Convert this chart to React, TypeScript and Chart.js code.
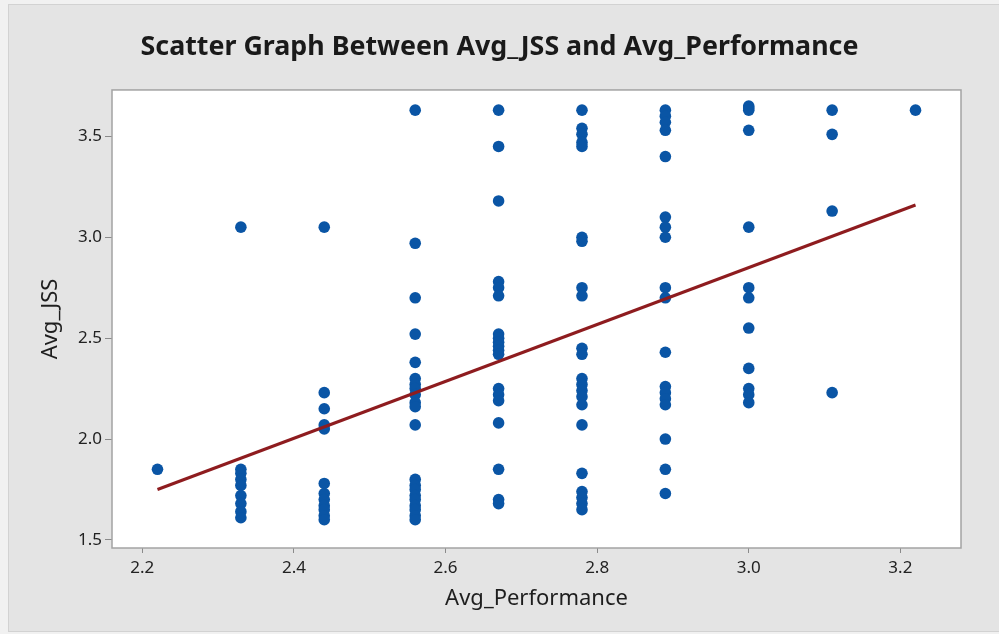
import React, { useEffect, useRef } from "react";
import { Chart, registerables } from "chart.js";

Chart.register(...registerables);

// Avg_Performance levels (x) and the Avg_JSS values (y) observed at each level
const perfLevels = [2.22, 2.33, 2.44, 2.56, 2.67, 2.78, 2.89, 3.0, 3.11, 3.22];
const jss222 = [1.85];
const jss233 = [3.05, 1.85, 1.83, 1.8, 1.77, 1.72, 1.68, 1.64, 1.61];
const jss244 = [3.05, 2.23, 2.15, 2.07, 2.05, 1.78, 1.73, 1.7, 1.67, 1.65, 1.62, 1.6];
const jss256 = [3.63, 2.97, 2.7, 2.52, 2.38, 2.3, 2.27, 2.25, 2.22, 2.18, 2.16, 2.07, 1.8, 1.77, 1.75, 1.72, 1.7, 1.67, 1.65, 1.62, 1.6];
const jss267 = [3.63, 3.45, 3.18, 2.78, 2.75, 2.71, 2.52, 2.5, 2.48, 2.46, 2.44, 2.42, 2.25, 2.22, 2.19, 2.08, 1.85, 1.7, 1.68];
const jss278 = [3.63, 3.54, 3.51, 3.47, 3.45, 3.0, 2.98, 2.75, 2.71, 2.45, 2.42, 2.3, 2.27, 2.24, 2.21, 2.17, 2.07, 1.83, 1.74, 1.71, 1.68, 1.65];
const jss289 = [3.63, 3.6, 3.57, 3.53, 3.4, 3.1, 3.05, 3.0, 2.75, 2.7, 2.43, 2.26, 2.23, 2.2, 2.17, 2.0, 1.85, 1.73];
const jss300 = [3.65, 3.64, 3.63, 3.53, 3.05, 2.75, 2.7, 2.55, 2.35, 2.25, 2.22, 2.18];
const jss311 = [3.63, 3.51, 3.13, 2.23];
const jss322 = [3.63];
const jssByLevel = [jss222, jss233, jss244, jss256, jss267, jss278, jss289, jss300, jss311, jss322];

// fitted regression line end points
const fitX = [2.22, 3.22];
const fitY = [1.75, 3.16];

// axis ticks
const xTicks = [2.2, 2.4, 2.6, 2.8, 3.0, 3.2];
const yTicks = [1.5, 2.0, 2.5, 3.0, 3.5];

const TITLE = "Scatter Graph Between Avg_JSS and Avg_Performance";
const X_LABEL = "Avg_Performance";
const Y_LABEL = "Avg_JSS";

const FONT = "'Noto Sans', 'Open Sans', sans-serif";

const backgroundPlugin = {
  id: "bgFrame",
  beforeDraw(chart: any) {
    const { ctx, width, height, chartArea } = chart;
    ctx.save();
    ctx.fillStyle = "#f1f1f1";
    ctx.fillRect(0, 0, width, height);
    ctx.fillStyle = "#e4e4e4";
    ctx.fillRect(8, 4, width - 8, height - 6);
    ctx.strokeStyle = "#d2d2d2";
    ctx.lineWidth = 1;
    ctx.strokeRect(8.5, 4.5, width - 8, height - 7);
    ctx.fillStyle = "#ffffff";
    ctx.fillRect(chartArea.left, chartArea.top, chartArea.right - chartArea.left, chartArea.bottom - chartArea.top);
    ctx.restore();
  },
  beforeDatasetsDraw(chart: any) {
    const { ctx, chartArea } = chart;
    ctx.save();
    ctx.strokeStyle = "#a3a3a3";
    ctx.lineWidth = 1.5;
    ctx.strokeRect(chartArea.left, chartArea.top, chartArea.right - chartArea.left, chartArea.bottom - chartArea.top);
    ctx.restore();
  },
};

export default function App() {
  const canvasRef = useRef<HTMLCanvasElement | null>(null);

  useEffect(() => {
    document.body.style.margin = "0";
    const canvas = canvasRef.current;
    if (!canvas) return;

    const points: { x: number; y: number }[] = [];
    perfLevels.forEach((p, i) => {
      jssByLevel[i].forEach((v) => points.push({ x: p, y: v }));
    });
    const fitLine = fitX.map((x, i) => ({ x, y: fitY[i] }));

    const chart = new Chart(canvas, {
      type: "scatter",
      data: {
        datasets: [
          {
            label: "Fit",
            data: fitLine,
            showLine: true,
            borderColor: "#8e1c1f",
            borderWidth: 3,
            pointRadius: 0,
            fill: false,
          },
          {
            label: "Avg_JSS",
            data: points,
            backgroundColor: "#0a55a5",
            borderColor: "#0a55a5",
            borderWidth: 0,
            pointRadius: 5.8,
            pointStyle: "circle",
          },
        ],
      },
      options: {
        responsive: false,
        animation: false,
        layout: { padding: { left: 0, right: 0, top: 0, bottom: 0 } },
        plugins: {
          legend: { display: false },
          tooltip: { enabled: false },
          title: {
            display: true,
            text: TITLE,
            color: "#1a1a1a",
            font: { family: FONT, size: 26.8, weight: "bold", lineHeight: 1.2 },
            padding: { top: 31, bottom: 26.8 },
          },
        },
        scales: {
          x: {
            type: "linear",
            min: 2.16,
            max: 3.28,
            afterBuildTicks: (scale: any) => {
              scale.ticks = xTicks.map((v) => ({ value: v }));
            },
            afterFit: (scale: any) => {
              scale.height = 86;
            },
            border: { display: false },
            grid: {
              display: true,
              drawOnChartArea: false,
              drawTicks: true,
              tickLength: 5,
              color: "#8a8a8a",
            },
            ticks: {
              color: "#222222",
              padding: 5,
              maxRotation: 0,
              font: { family: FONT, size: 17 },
              callback: (v: any) => Number(v).toFixed(1),
            },
            title: {
              display: true,
              text: X_LABEL,
              color: "#1e1e1e",
              font: { family: FONT, size: 22 },
              padding: { top: 0, bottom: 22 },
            },
          },
          y: {
            type: "linear",
            min: 1.46,
            max: 3.73,
            afterBuildTicks: (scale: any) => {
              scale.ticks = yTicks.map((v) => ({ value: v }));
            },
            afterFit: (scale: any) => {
              scale.width = 112;
            },
            border: { display: false },
            grid: {
              display: true,
              drawOnChartArea: false,
              drawTicks: true,
              tickLength: 7,
              color: "#8a8a8a",
            },
            ticks: {
              color: "#222222",
              padding: 3,
              font: { family: FONT, size: 17 },
              callback: (v: any) => Number(v).toFixed(1),
            },
            title: {
              display: true,
              text: Y_LABEL,
              color: "#1e1e1e",
              font: { family: FONT, size: 22 },
              padding: { top: 38, bottom: 0 },
            },
          },
          yRight: {
            type: "linear",
            position: "right",
            display: true,
            afterFit: (scale: any) => {
              scale.width = 38;
            },
            border: { display: false },
            grid: { display: false, drawTicks: false },
            ticks: { display: false },
          },
        },
      },
      plugins: [backgroundPlugin],
    } as any);

    return () => {
      chart.destroy();
    };
  }, []);

  return (
    <div style={{ width: 999, height: 634 }}>
      <canvas ref={canvasRef} width={999} height={634} style={{ display: "block", width: 999, height: 634 }} />
    </div>
  );
}
